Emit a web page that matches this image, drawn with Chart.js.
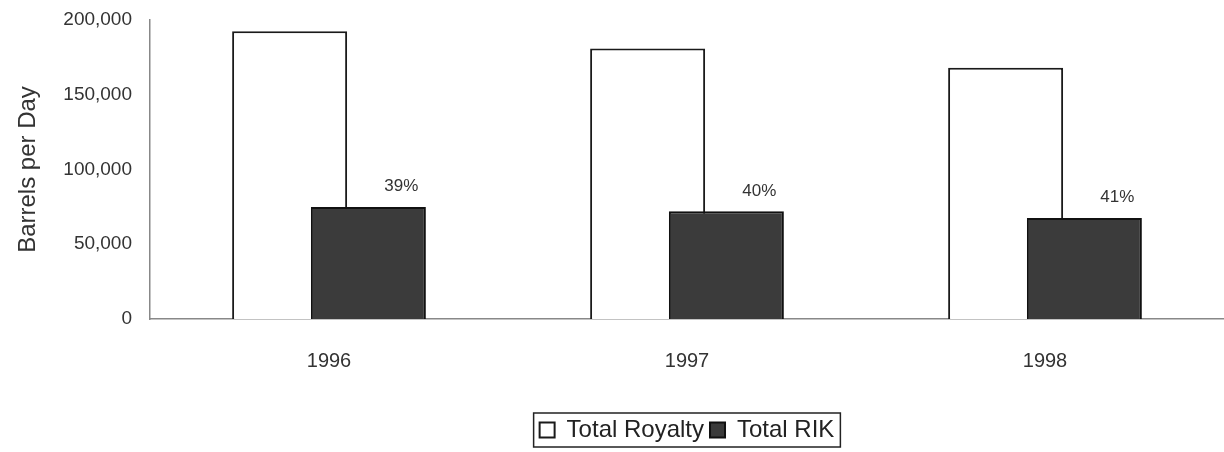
<!DOCTYPE html>
<html>
<head>
<meta charset="utf-8">
<script src="https://cdn.jsdelivr.net/npm/chart.js@4.4.1/dist/chart.umd.min.js"></script>
<style>
  html, body { margin: 0; padding: 0; background: #fff; }
  #wrap { width: 1224px; height: 452px; }
</style>
</head>
<body>
<div id="wrap"><canvas id="rikChart"></canvas></div>
<script>
const years = ['1996', '1997', '1998'];
const totalRoyalty = [192500, 181000, 168000];
const totalRIK = [75000, 72000, 67500];
const rikShare = ['39%', '40%', '41%'];
const yTicks = [0, 50000, 100000, 150000, 200000];

const FONT = '"Liberation Sans", Arial, sans-serif';

// RIK bars overlap the royalty bars, so paint them last, then the share labels
const rikOnTop = {
    id: 'rikOnTop',
    beforeDatasetDraw(chart, args) {
        if (args.index === 1) return false;
    },
    afterDatasetsDraw(chart) {
        const meta = chart.getDatasetMeta(1);
        meta.controller.draw();
        const ctx = chart.ctx;
        ctx.save();
        ctx.font = '17px ' + FONT;
        ctx.fillStyle = '#333';
        ctx.textAlign = 'center';
        ctx.textBaseline = 'bottom';
        meta.data.forEach((bar, i) => {
            ctx.fillText(rikShare[i], bar.x + 33, bar.y - 12);
        });
        ctx.restore();
    }
};

// frame round the legend items
const legendFrame = {
    id: 'legendFrame',
    afterDraw(chart) {
        const boxes = chart.legend.legendHitBoxes;
        if (!boxes || !boxes.length) return;
        const first = boxes[0], last = boxes[boxes.length - 1];
        const ctx = chart.ctx;
        ctx.save();
        ctx.strokeStyle = '#222';
        ctx.lineWidth = 1.5;
        ctx.strokeRect(first.left - 6, first.top - 5, last.left + last.width - first.left + 12, first.height + 10);
        ctx.restore();
    }
};

new Chart(document.getElementById('rikChart'), {
    type: 'bar',
    data: {
        labels: years,
        datasets: [{
            label: 'Total Royalty',
            data: totalRoyalty,
            backgroundColor: '#ffffff',
            borderColor: '#1a1a1a',
            borderWidth: 2
        }, {
            label: 'Total RIK',
            data: totalRIK,
            backgroundColor: '#3b3b3b',
            borderColor: '#111',
            borderWidth: 2
        }]
    },
    options: {
        responsive: true,
        maintainAspectRatio: false,
        animation: false,
        datasets: {
            bar: { categoryPercentage: 0.44, barPercentage: 1.46 }
        },
        layout: { padding: { top: 20, right: 0, left: 0, bottom: 0 } },
        scales: {
            x: {
                afterFit(scale) { scale.height = 93; },
                grid: { display: false, drawTicks: false },
                border: { color: '#888', width: 1.5 },
                ticks: { color: '#333', font: { family: FONT, size: 20 }, padding: 30 }
            },
            y: {
                min: 0,
                max: 200000,
                afterBuildTicks(scale) { scale.ticks = yTicks.map(v => ({ value: v })); },
                afterFit(scale) { scale.width = 150; scale.paddingTop = 0; scale.paddingBottom = 0; },
                grid: { display: false, drawOnChartArea: false, drawTicks: true, tickLength: 6, tickColor: '#888' },
                border: { color: '#888', width: 1.5 },
                ticks: {
                    color: '#333',
                    font: { family: FONT, size: 19 },
                    padding: 12,
                    callback: v => v.toLocaleString('en-US')
                },
                title: {
                    display: true,
                    text: 'Barrels per Day',
                    color: '#333',
                    font: { family: FONT, size: 24 },
                    padding: { top: 14, bottom: 0 }
                }
            }
        },
        plugins: {
            tooltip: { enabled: false },
            legend: {
                position: 'bottom',
                fullSize: false,
                labels: {
                    color: '#222',
                    font: { family: FONT, size: 24 },
                    boxWidth: 15,
                    boxHeight: 15,
                    padding: 6
                }
            }
        }
    },
    plugins: [rikOnTop, legendFrame]
});
</script>
</body>
</html>
